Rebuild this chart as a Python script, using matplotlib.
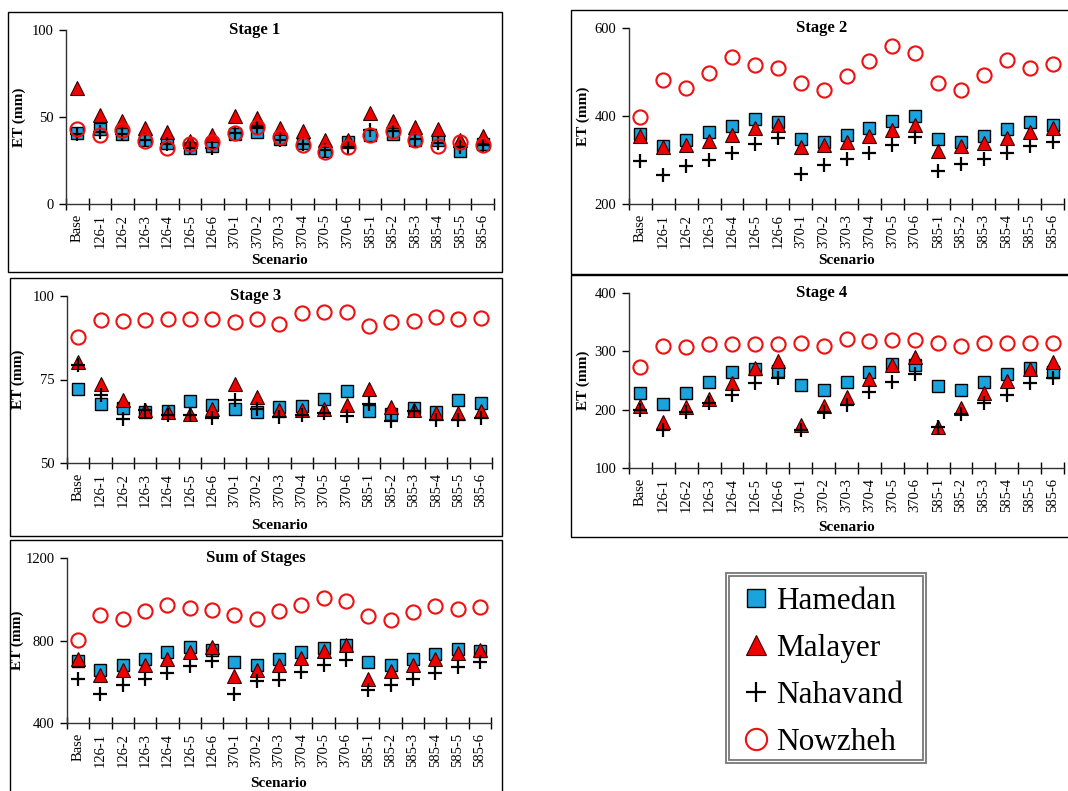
import numpy as np
import matplotlib
matplotlib.use("Agg")
import matplotlib.pyplot as plt
from matplotlib.patches import Rectangle

plt.rcParams['font.family'] = ['Liberation Serif', 'DejaVu Serif']

scenarios = ["Base", "126-1", "126-2", "126-3", "126-4", "126-5", "126-6",
             "370-1", "370-2", "370-3", "370-4", "370-5", "370-6",
             "585-1", "585-2", "585-3", "585-4", "585-5", "585-6"]
stations = ["Hamedan", "Malayer", "Nahavand", "Nowzheh"]

# Stage 1
s1_hamedan = [40.9, 43, 40, 36.7, 35, 32, 33.5, 40, 41.5, 37.6, 35, 30.5, 35.7, 39.5, 40.5, 37, 37, 30.5, 34.4]
s1_malayer = [66.8, 51.4, 47.8, 43.4, 41.5, 36.3, 39.5, 50.5, 49.7, 43.8, 42, 36.7, 37, 52.4, 47.8, 44.3, 43, 36.7, 39]
s1_nahavand = [40.5, 41.5, 40.5, 36.7, 34.4, 32, 32.2, 40.9, 43.4, 37, 34.4, 31, 32.8, 42.8, 41.8, 37.6, 35, 32.8, 33.8]
s1_nowzheh = [43, 39.5, 42.8, 36.3, 32.2, 34.7, 35.7, 40.9, 44.3, 38.6, 33.8, 29.9, 32.8, 39.5, 41.8, 37, 33.2, 35.7, 33.8]

# Stage 2
s2_hamedan = [358, 331, 346, 364, 378, 394, 386, 348, 342, 356, 373, 388, 399, 348, 342, 355, 370, 386, 380]
s2_malayer = [354, 330, 333, 344, 356, 373, 380, 329, 333, 342, 354, 369, 380, 320, 331, 339, 350, 363, 373]
s2_nahavand = [298, 267, 286, 301, 317, 337, 350, 269, 289, 302, 316, 335, 352, 274, 291, 303, 316, 331, 342]
s2_nowzheh = [397, 481, 464, 498, 534, 517, 508, 476, 460, 492, 526, 560, 543, 476, 458, 494, 527, 510, 518]

# Stage 3
s3_hamedan = [72.3, 67.8, 66.5, 65.3, 65.5, 68.6, 67.3, 66.1, 65.3, 66.8, 67.0, 69.3, 71.5, 65.5, 64.8, 66.5, 65.3, 69.0, 68.1]
s3_malayer = [80.2, 73.6, 69.0, 65.8, 65.3, 64.8, 66.1, 73.6, 69.8, 66.0, 66.0, 66.1, 67.3, 72.3, 66.8, 65.8, 65.1, 65.1, 65.6]
s3_nahavand = [79.2, 70.3, 63.1, 65.8, 64.3, 64.3, 63.5, 68.8, 66.3, 63.8, 64.3, 65.0, 64.1, 67.8, 62.5, 65.5, 62.8, 63.0, 63.5]
s3_nowzheh = [87.7, 92.9, 92.5, 92.9, 93.2, 93.0, 93.1, 92.2, 93.1, 91.7, 94.9, 95.2, 95.1, 91.0, 92.2, 92.5, 93.8, 93.2, 93.5]

# Stage 4
s4_hamedan = [228, 209, 229, 247, 265, 269, 266, 242, 234, 248, 265, 278, 276, 241, 234, 248, 261, 271, 264]
s4_malayer = [206, 179, 204, 219, 245, 272, 284, 173, 207, 221, 252, 277, 291, 171, 203, 228, 249, 269, 281]
s4_nahavand = [199, 165, 196, 211, 225, 245, 255, 165, 196, 208, 230, 248, 261, 171, 193, 211, 225, 245, 255]
s4_nowzheh = [274, 310, 307, 313, 313, 313, 313, 315, 310, 321, 318, 319, 319, 314, 309, 314, 314, 314, 314]

# Sum of stages
s5_hamedan = [699, 655, 683, 712, 744, 767, 755, 696, 680, 710, 742, 763, 780, 696, 680, 710, 734, 760, 751]
s5_malayer = [712, 634, 655, 680, 710, 744, 768, 626, 658, 680, 715, 751, 780, 615, 650, 680, 710, 739, 755]
s5_nahavand = [613, 542, 586, 613, 642, 678, 702, 541, 602, 610, 646, 683, 707, 558, 586, 613, 642, 670, 694]
s5_nowzheh = [801, 925, 906, 941, 974, 957, 949, 925, 906, 941, 974, 1006, 990, 917, 901, 936, 969, 954, 962]

W, H = 1068, 791
fig = plt.figure(figsize=(W / 100, H / 100), dpi=100)

styles = [
    dict(marker='s', ms=8.8, mfc='#1aa3dd', mec='black', mew=1.0),
    dict(marker='^', ms=10, mfc='#ee0000', mec='#330000', mew=0.8),
    dict(marker='+', ms=9.5, mfc='none', mec='black', mew=1.6),
    dict(marker='o', ms=10.2, mfc='none', mec='#ee1111', mew=1.5),
]

# title, data, ylim, yticks, axes box in px (left, right, top, bottom),
# panel frame in px, ylabel centre x px, xlabel centre y px
panels = [
    ("Stage 1", [s1_hamedan, s1_malayer, s1_nahavand, s1_nowzheh], (0, 100), [0, 50, 100],
     (66, 494, 30, 204), (8, 502, 12, 272), 19, 261),
    ("Stage 2", [s2_hamedan, s2_malayer, s2_nahavand, s2_nowzheh], (200, 600), [200, 400, 600],
     (629, 1064, 28, 204), (571, 1072, 10, 274), 583, 261),
    ("Stage 3", [s3_hamedan, s3_malayer, s3_nahavand, s3_nowzheh], (50, 100), [50, 75, 100],
     (67, 492, 296, 463), (10, 502, 278, 536), 18, 526),
    ("Stage 4", [s4_hamedan, s4_malayer, s4_nahavand, s4_nowzheh], (100, 400), [100, 200, 300, 400],
     (629, 1064, 293, 468), (571, 1072, 275, 537), 583, 528),
    ("Sum of Stages", [s5_hamedan, s5_malayer, s5_nahavand, s5_nowzheh], (400, 1200), [400, 800, 1200],
     (67, 491, 558, 723), (10, 502, 540, 795), 17, 784),
]

x = np.arange(len(scenarios))
handles = None
for title, data, ylim, yticks, box, pbox, ylx, xly in panels:
    l, r, t, b = box
    fig.patches.append(Rectangle((pbox[0] / W, 1 - pbox[3] / H), (pbox[1] - pbox[0]) / W,
                                 (pbox[3] - pbox[2]) / H, transform=fig.transFigure,
                                 fill=False, ec='black', lw=1.0, zorder=0))
    ax = fig.add_axes([l / W, 1 - b / H, (r - l) / W, (b - t) / H])
    hs = []
    for name, vals, st in zip(stations, data, styles):
        h, = ax.plot(x, vals, ls='none', label=name, **st)
        hs.append(h)
    if handles is None:
        handles = hs
    ax.set_xlim(-0.5, len(scenarios) - 0.5)
    ax.set_ylim(*ylim)
    ax.set_yticks(yticks)
    ax.set_xticks(x)
    ax.set_xticklabels(scenarios, rotation=90, fontsize=10.5)
    ax.set_xticks(np.arange(-0.5, len(scenarios)), minor=True)
    ax.tick_params(axis='x', which='major', length=0, pad=7)
    ax.tick_params(axis='x', which='minor', length=9, direction='inout', width=1)
    ax.tick_params(axis='y', length=5, direction='out', width=1, labelsize=10.5, pad=4)
    for s in ['top', 'right']:
        ax.spines[s].set_visible(False)
    for s in ['left', 'bottom']:
        ax.spines[s].set_linewidth(1.0)
        ax.spines[s].set_color('#333333')
    ax.set_ylabel("ET (mm)", fontsize=11, fontweight='bold')
    ax.set_xlabel("Scenario", fontsize=11, fontweight='bold')
    # label anchors are the text edge nearest the axes, so offset by half the text height
    ax.yaxis.set_label_coords((ylx + 7 - l) / (r - l), 0.5)
    ax.xaxis.set_label_coords(0.5, (b - (xly - 7)) / (b - t))
    fig.text((pbox[0] + pbox[1]) / 2 / W, 1 - t / H, title, fontsize=12, fontweight='bold',
             ha='center', va='center')

# legend with double grey border
for pad in [0, 3]:
    fig.patches.append(Rectangle(((726 + pad) / W, 1 - (763 - pad) / H), (200 - 2 * pad) / W,
                                 (190 - 2 * pad) / H, transform=fig.transFigure,
                                 fill=False, ec='#777777', lw=1.3))
fig.legend(handles=handles, labels=stations, loc='center',
           bbox_to_anchor=(824 / W, 1 - 672 / H), frameon=False, fontsize=22.5,
           markerscale=1.5, handlelength=0.7, handletextpad=0.3, labelspacing=0.58)

fig.savefig("out.png", dpi=100)
